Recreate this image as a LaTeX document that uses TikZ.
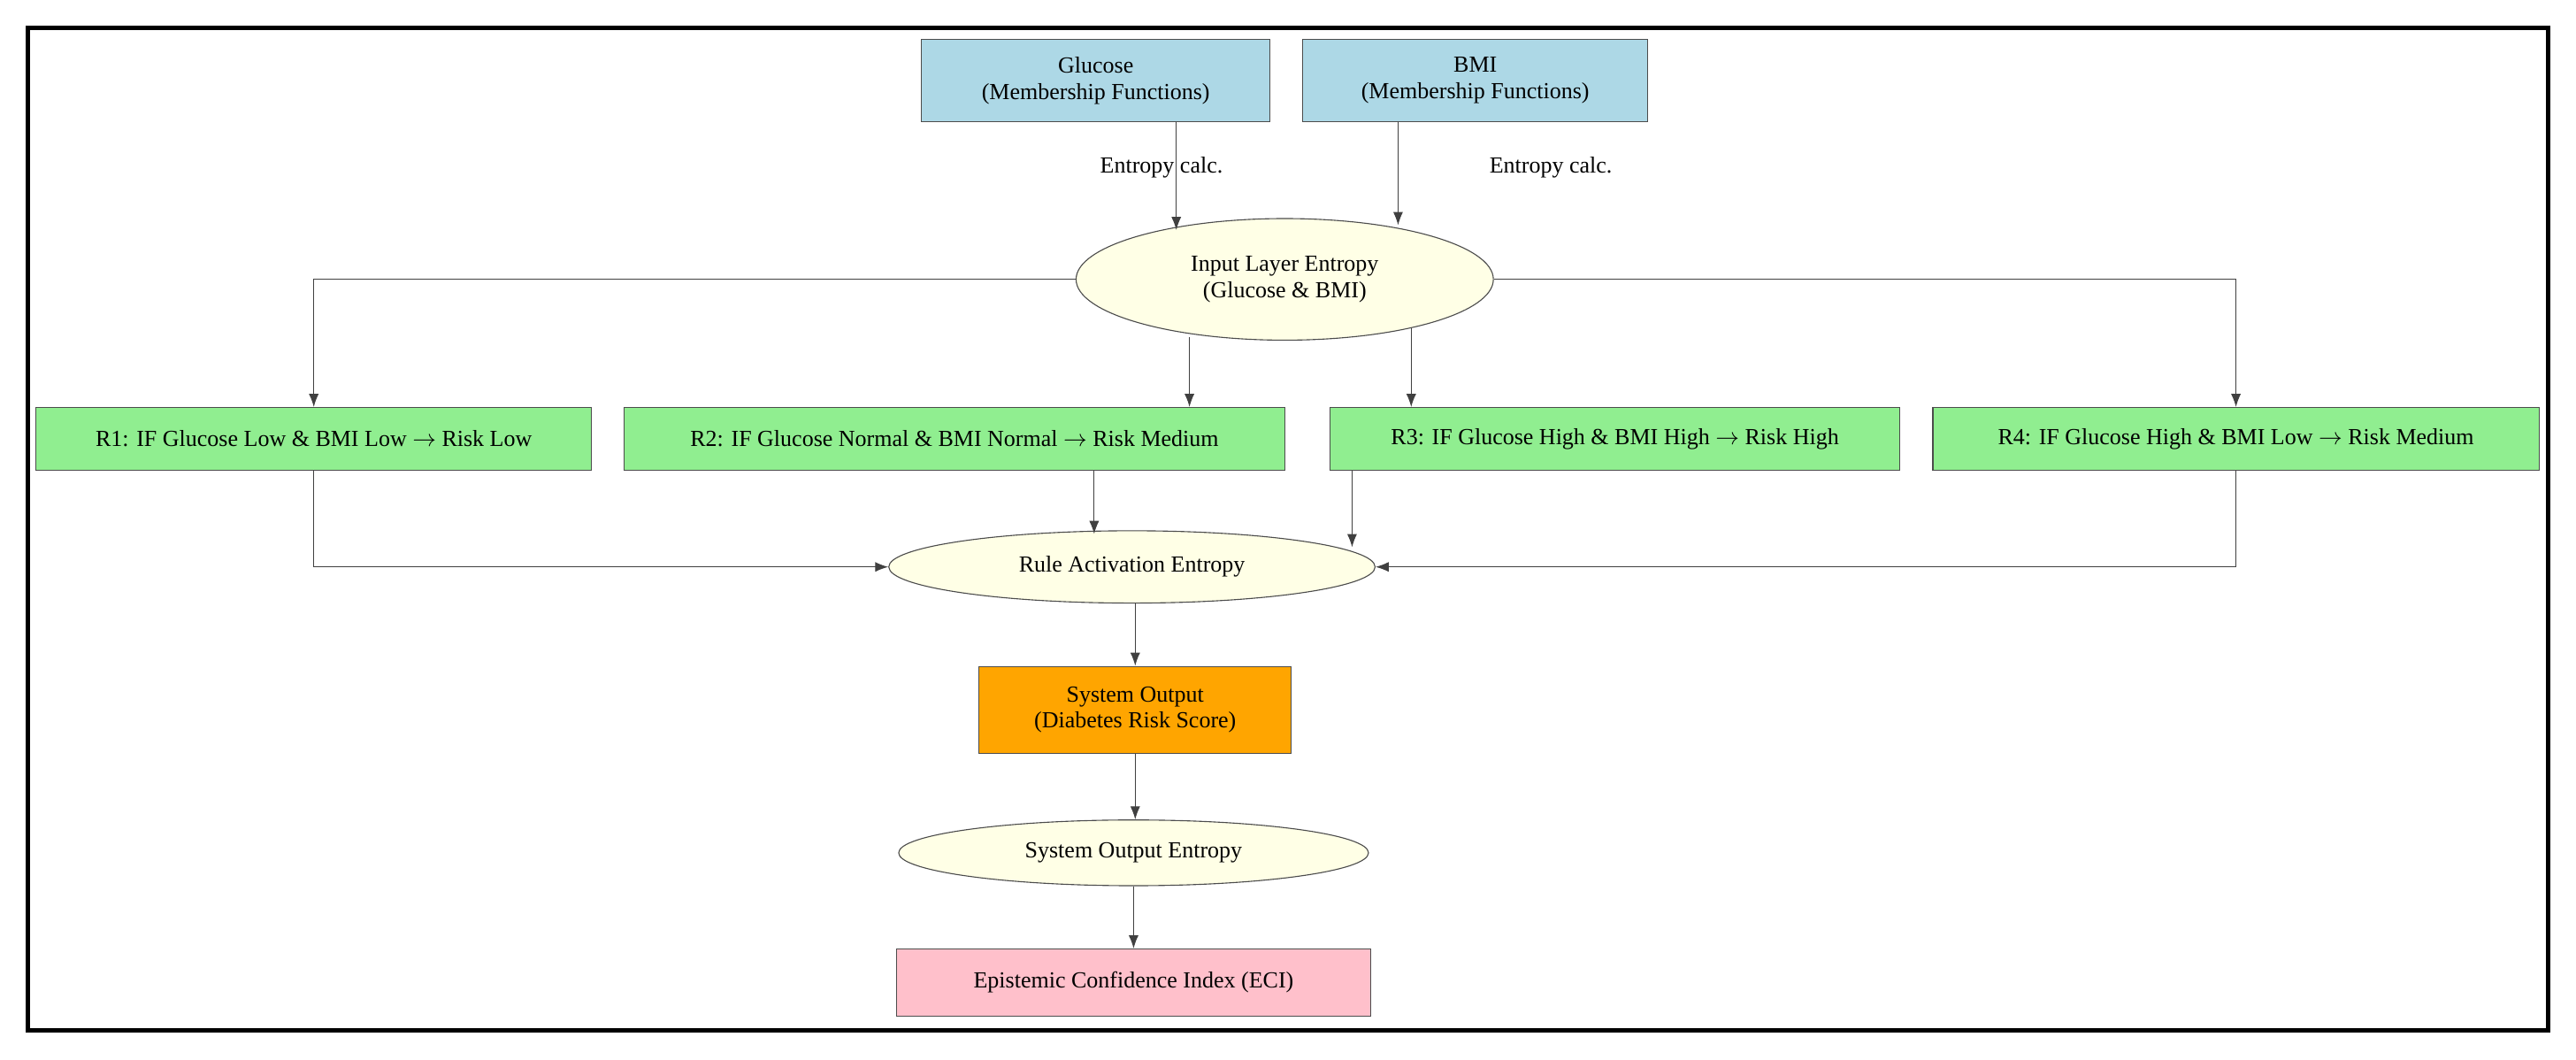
\documentclass[tikz,border=0pt]{standalone}
\usepackage{fontspec}
\setmainfont{Liberation Serif}
\usetikzlibrary{arrows.meta,shapes.geometric}
\begin{document}
\begin{tikzpicture}[x=1pt,y=-1pt,
  every node/.style={font=\fontsize{14}{16}\selectfont,align=center,draw=black!70,line width=0.6pt},
  bx/.style={rectangle,inner sep=0pt},
  el/.style={ellipse,fill=yellow!12,inner sep=0pt},
  lbl/.style={draw=none,fill=none},
  arr/.style={-{Latex[length=8,width=6]},line width=0.6pt,black!75}]
\useasboundingbox (0,0) rectangle (1568,645);
\draw[line width=2.5pt] (17,17) rectangle (1551,627);
\node[bx,fill=cyan!25!blue!10!white,fill={rgb,255:red,173;green,216;blue,230},minimum width=212,minimum height=50] (g) at (667,49) {Glucose\\(Membership Functions)};
\node[bx,fill={rgb,255:red,173;green,216;blue,230},minimum width=210,minimum height=50] (b) at (898,49) {BMI\\(Membership Functions)};
\node[lbl] (l1) at (707,102) {Entropy calc.};
\node[lbl] (l2) at (944,102) {Entropy calc.};
\node[el,fill={rgb,255:red,255;green,255;blue,230},minimum width=254,minimum height=74] (ie) at (782,170) {Input Layer Entropy\\(Glucose \& BMI)};
\tikzset{rule/.style={bx,fill={rgb,255:red,144;green,238;blue,144},minimum height=38}}
\node[rule,minimum width=338] (r1) at (191,267) {R1: IF Glucose Low \& BMI Low $\rightarrow$ Risk Low};
\node[rule,minimum width=402] (r2) at (581,267) {R2: IF Glucose Normal \& BMI Normal $\rightarrow$ Risk Medium};
\node[rule,minimum width=347] (r3) at (983,267) {R3: IF Glucose High \& BMI High $\rightarrow$ Risk High};
\node[rule,minimum width=369] (r4) at (1361,267) {R4: IF Glucose High \& BMI Low $\rightarrow$ Risk Medium};
\node[el,fill={rgb,255:red,255;green,255;blue,230},minimum width=296,minimum height=44] (ra) at (689,345) {Rule Activation Entropy};
\node[bx,fill={rgb,255:red,255;green,165;blue,0},minimum width=190,minimum height=53] (so) at (691,432) {System Output\\(Diabetes Risk Score)};
\node[el,fill={rgb,255:red,255;green,255;blue,230},minimum width=286,minimum height=40] (se) at (690,519) {System Output Entropy};
\node[bx,fill={rgb,255:red,255;green,192;blue,203},minimum width=289,minimum height=41] (eci) at (690,598) {Epistemic Confidence Index (ECI)};
\draw[arr] (g.south -| 716,0) -- (716,140);
\draw[arr] (b.south -| 851,0) -- (851,137);
\draw[arr] (ie.west) -- (191,170) -- (r1.north);
\draw[arr] (ie.east) -- (1361,170) -- (r4.north);
\draw[arr] (724,205) -- (r2.north -| 724,0);
\draw[arr] (859,200) -- (r3.north -| 859,0);
\draw[arr] (r1.south) -- (191,345) -- (ra.west);
\draw[arr] (r4.south) -- (1361,345) -- (ra.east);
\draw[arr] (r2.south -| 666,0) -- (666,325);
\draw[arr] (r3.south -| 823,0) -- (823,333);
\draw[arr] (ra.south -| 691,0) -- (so.north);
\draw[arr] (so.south) -- (se.north -| 691,0);
\draw[arr] (se.south) -- (eci.north);
\end{tikzpicture}
\end{document}
